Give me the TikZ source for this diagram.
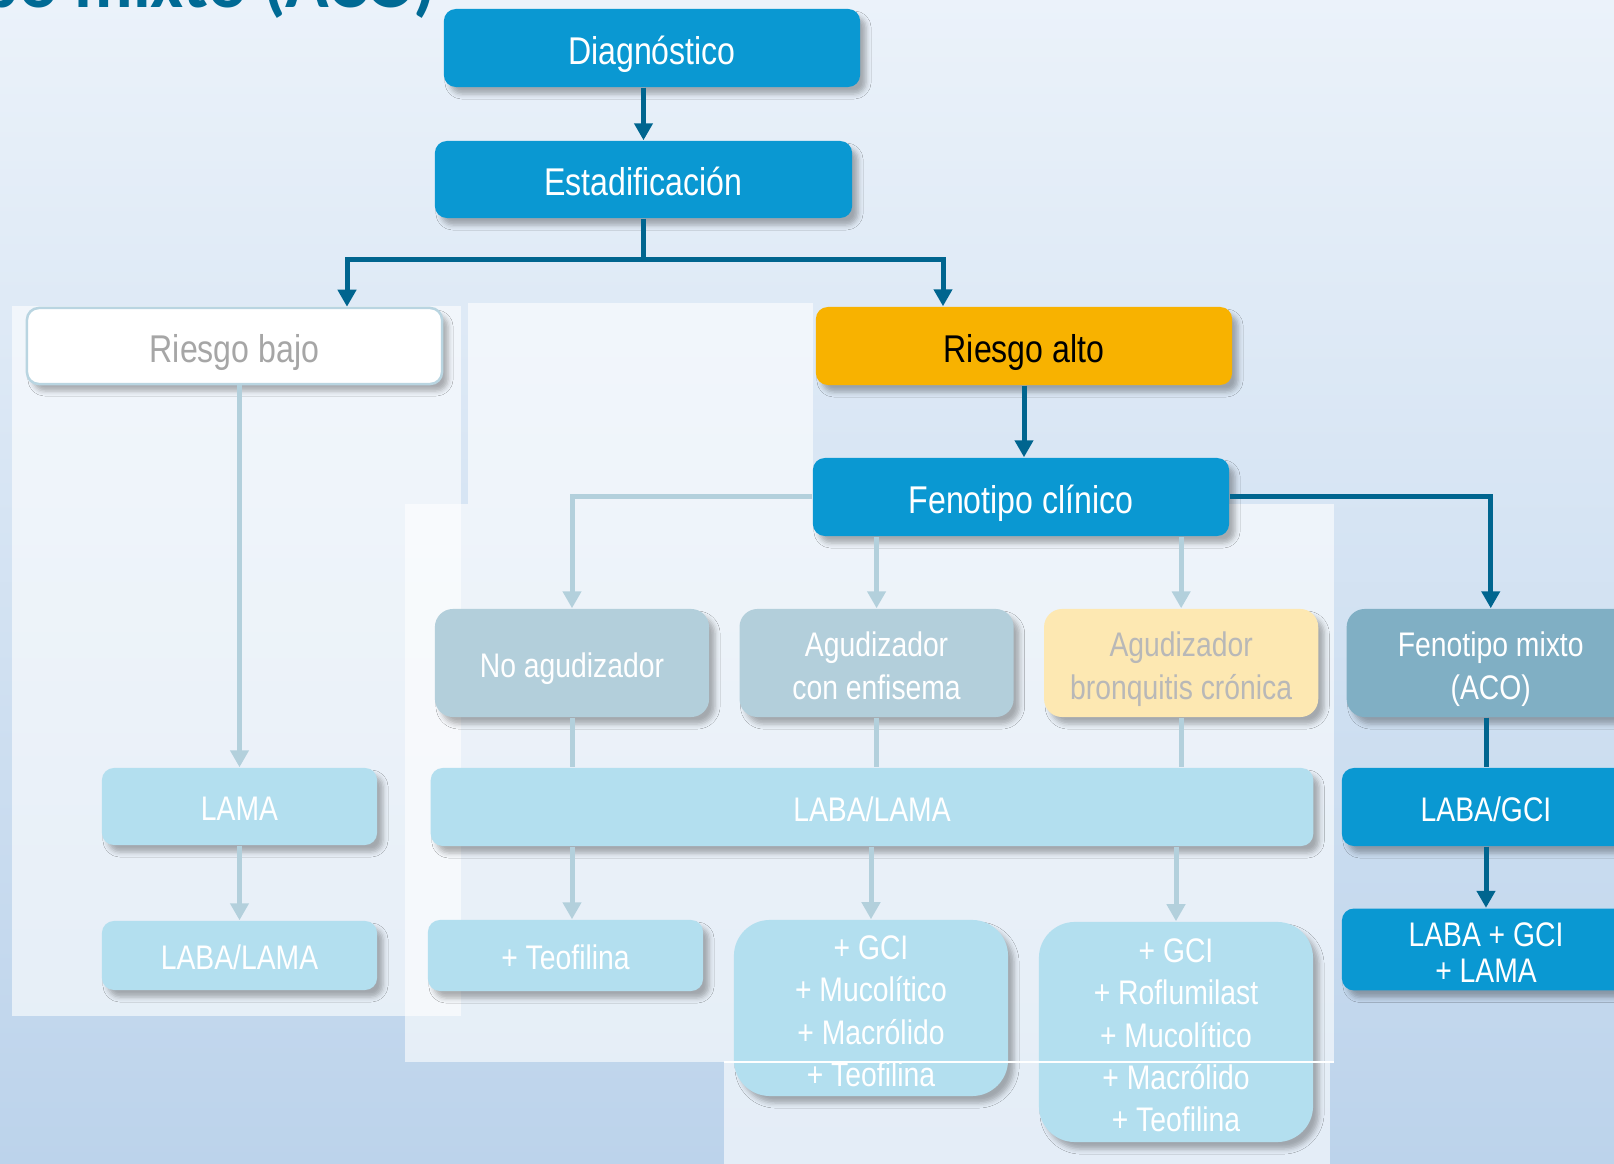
\documentclass[tikz,border=0pt]{standalone}
\usepackage{fontspec}
\setmainfont{Liberation Sans}[FakeStretch=0.83]
\newfontfamily\titlefont{Carlito}
\usepackage{tikz}
\usetikzlibrary{positioning}
\usetikzlibrary{calc}
\usetikzlibrary{arrows.meta}
\usetikzlibrary{shadows.blur}

\definecolor{bgtop}{RGB}{235,242,250}
\definecolor{bgmid}{RGB}{207,225,241}
\definecolor{bgbot}{RGB}{188,211,235}
\definecolor{titleblue}{RGB}{0,106,148}
\definecolor{lineblue}{RGB}{0,101,143}
\definecolor{lightline}{RGB}{179,208,220}
\definecolor{boxblue}{RGB}{10,152,210}
\definecolor{riskorange}{RGB}{248,178,0}
\definecolor{greyblue}{RGB}{179,207,219}
\definecolor{cream}{RGB}{253,232,178}
\definecolor{mixblue}{RGB}{128,175,196}
\definecolor{drugcyan}{RGB}{179,223,239}
\definecolor{lowborder}{RGB}{185,213,225}

\newcommand{\linestrut}{\rule[-0.22em]{0pt}{1.27em}}
\newcommand{\topstrut}{\rule{0pt}{1.1em}}
\newcommand{\botstrut}{\rule[-0.22em]{0pt}{0.22em}}

\begin{document}
\begin{tikzpicture}[x=0.01cm, y=-0.01cm,
    shade box/.style={blur shadow={shadow xshift=0.06cm, shadow yshift=-0.07cm, shadow blur radius=0.05cm, shadow opacity=30}},
    boxtext/.style={inner sep=0pt, align=center, text=white, execute at begin node=\linestrut, execute at end node=\linestrut},
    stage/.style={shade box, boxtext, rounded corners=0.12cm, minimum width=4.16cm, minimum height=0.78cm, fill=boxblue, font=\fontsize{11}{13}\selectfont},
    pheno/.style={shade box, boxtext, rounded corners=0.18cm, minimum width=2.74cm, minimum height=1.08cm, fill=greyblue, font=\fontsize{9.7}{11.95}\selectfont},
    drug/.style={shade box, boxtext, rounded corners=0.12cm, minimum width=2.75cm, minimum height=0.77cm, fill=drugcyan, font=\fontsize{9.7}{11.95}\selectfont},
    darkline/.style={draw=lineblue, line width=0.05cm},
    darkarrow/.style={darkline, -{Triangle[width=0.18cm, length=0.17cm]}},
    lightline/.style={draw=lightline, line width=0.05cm},
    lightarrow/.style={lightline, -{Triangle[width=0.18cm, length=0.17cm]}}]

    \useasboundingbox (0,0) rectangle (1614,1164);
    \shade[top color=bgtop, middle color=bgmid, bottom color=bgbot] (0,0) rectangle (1614,1164);

    \fill[white, opacity=0.6] (12,306) rectangle (461,1016);
    \fill[white, opacity=0.6] (468,303) rectangle (813,504);
    \fill[white, opacity=0.6] (405,504) rectangle (1334,1062);
    \fill[white, opacity=0.6] (724,1062) rectangle (1330,1164);

    \node[anchor=base east, inner sep=0pt, text=titleblue, font=\titlefont\bfseries\fontsize{20.5}{24}\selectfont] (title) at (437,8) {Fenotipo mixto (ACO)};

    \node[stage] (diag) at (652,48) {Diagnóstico};
    \node[stage, minimum width=4.17cm, minimum height=0.77cm] (estad) at (643.5,179.5) {Estadificación};
    \node[stage, fill=white, draw=lowborder, line width=0.025cm, text={rgb,255:red,166;green,166;blue,166}, minimum width=4.15cm, minimum height=0.76cm] (bajo) at (234.5,346) {Riesgo bajo};
    \node[stage, fill=riskorange, text=black] (alto) at (1024,346) {Riesgo alto};
    \node[stage] (feno) at (1021,497) {Fenotipo clínico};

    \node[pheno] (noag) at (572,663) {No agudizador};
    \node[pheno, right=0.29cm of noag] (enf) {\topstrut Agudizador\\con enfisema\botstrut};
    \node[pheno, right=0.29cm of enf, fill=cream, text={rgb,255:red,184;green,184;blue,184}] (bron) {\topstrut Agudizador\\bronquitis crónica\botstrut};
    \node[pheno, right=0.27cm of bron, fill=mixblue, minimum width=2.88cm] (mixto) {\topstrut Fenotipo mixto\\(ACO)\botstrut};

    \node[drug] (lama) at (239.5,806.5) {LAMA};
    \node[drug, minimum width=8.82cm, minimum height=0.78cm] (lablama) at (872,807) {LABA/LAMA};
    \node[drug, fill=boxblue, minimum width=2.88cm, minimum height=0.78cm] (labgci) at (1486,807) {LABA/GCI};

    \node[drug, minimum height=0.69cm] (lamab) at (239.5,955.5) {LABA/LAMA};
    \node[drug, minimum height=0.71cm] (teo) at (565.5,955.5) {+ Teofilina};
    \node[drug, rounded corners=0.36cm, minimum width=2.74cm, minimum height=1.76cm] (trat2) at (871,1008) {\topstrut + GCI\\+ Mucolítico\\+ Macrólido\\+ Teofilina\botstrut};
    \node[drug, rounded corners=0.36cm, minimum width=2.74cm, minimum height=2.2cm] (trat3) at (1176,1032) {\topstrut + GCI\\+ Roflumilast\\+ Mucolítico\\+ Macrólido\\+ Teofilina\botstrut};
    \node[drug, fill=boxblue, minimum width=2.88cm, minimum height=0.71cm, font=\fontsize{9.7}{10.5}\selectfont] (triple) at (1486,949.5) {\topstrut LABA + GCI\\+ LAMA\botstrut};

    \coordinate (jl) at (347,260);
    \coordinate (jr) at (943,260);

    \draw[darkarrow] (estad.north |- diag.south) -- (estad.north);
    \draw[darkline] (estad.south) -- (estad.south |- jl);
    \draw[darkline, {Triangle[width=0.18cm, length=0.17cm]}-{Triangle[width=0.18cm, length=0.17cm]}] (jl |- bajo.north) -- (jl) -- (jr) -- (jr |- alto.north);
    \draw[darkarrow] (alto.south) -- (alto.south |- feno.north);
    \draw[darkarrow] (feno.east) -| (mixto.north);
    \draw[darkline] (labgci.north |- mixto.south) -- (labgci.north);
    \draw[darkarrow] (labgci.south) -- (triple.north);

    \draw[lightarrow] (lama.north |- bajo.south) -- (lama.north);
    \draw[lightarrow] (lama.south) -- (lamab.north);
    \draw[lightarrow] (feno.west) -| (noag.north);
    \draw[lightarrow] (feno.south -| enf.north) -- (enf.north);
    \draw[lightarrow] (feno.south -| bron.north) -- (bron.north);
    \draw[lightline] (noag.south) -- (noag.south |- lablama.north);
    \draw[lightline] (enf.south) -- (enf.south |- lablama.north);
    \draw[lightline] (bron.south) -- (bron.south |- lablama.north);
    \draw[lightarrow] (noag.south |- lablama.south) -- (noag.south |- teo.north);
    \draw[lightarrow] (trat2.north |- lablama.south) -- (trat2.north);
    \draw[lightarrow] (trat3.north |- lablama.south) -- (trat3.north);

    \draw[white, line width=0.012cm] (724,1062) -- (1334,1062);
\end{tikzpicture}
\end{document}
